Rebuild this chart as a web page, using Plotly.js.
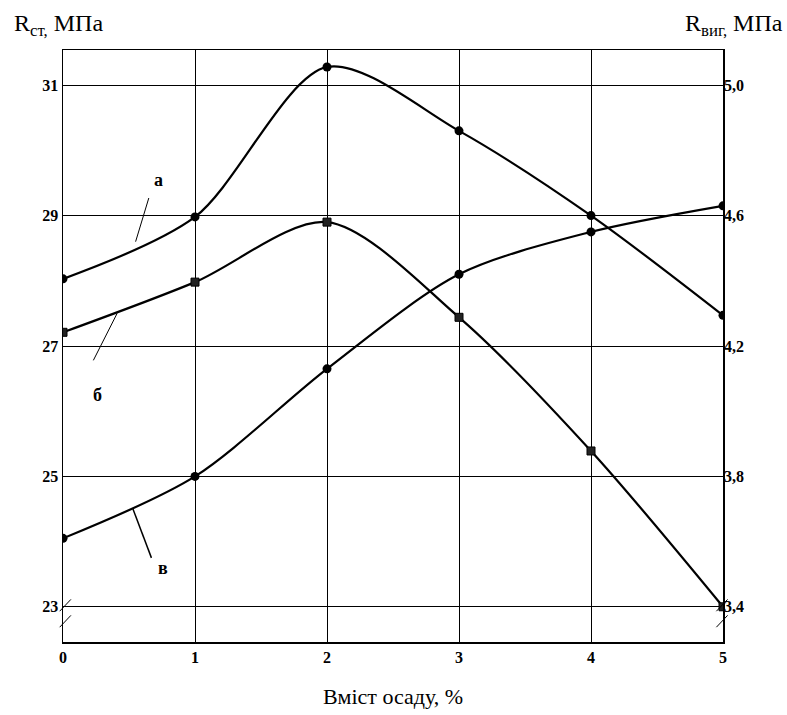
<!DOCTYPE html>
<html>
<head>
<meta charset="utf-8">
<script src="https://cdn.plot.ly/plotly-3.0.1.min.js"></script>
<style>html,body{margin:0;padding:0;background:#fff;}#chart{width:787px;height:715px;}</style>
</head>
<body>
<div id="chart"></div>
<script>
// Data
const xContent = [0, 1, 2, 3, 4, 5];            // Вміст осаду, %
const seriesA = [28.03, 28.98, 31.28, 30.30, 29.0, 27.47];   // R_ст, МПа (left axis)
const seriesB = [27.21, 27.98, 28.90, 27.44, 25.39, 23.0];   // R_ст, МПа (left axis)
const seriesV = [3.61, 3.80, 4.13, 4.42, 4.55, 4.63];        // R_виг, МПа (right axis)
const leftTicks = [23, 25, 27, 29, 31];
const rightTicks = [3.4, 3.8, 4.2, 4.6, 5.0];
const rightTickText = ['3,4', '3,8', '4,2', '4,6', '5,0'];
const xTicks = [0, 1, 2, 3, 4, 5];

const serif = 'Liberation Serif, Times New Roman, serif';
const lineStyle = {color: '#000', width: 2.2, shape: 'spline', smoothing: 0.85};

const traces = [
  {x: xContent, y: seriesA, type: 'scatter', mode: 'lines+markers', name: 'а',
   line: lineStyle, marker: {symbol: 'circle', size: 9, color: '#000'}},
  {x: xContent, y: seriesB, type: 'scatter', mode: 'lines+markers', name: 'б',
   line: lineStyle, marker: {symbol: 'square', size: 8, color: '#222', line: {color: '#000', width: 1}}},
  {x: xContent, y: seriesV, type: 'scatter', mode: 'lines+markers', name: 'в', yaxis: 'y2',
   line: lineStyle, marker: {symbol: 'circle', size: 9, color: '#000'}}
];

const yMin = 22.46, yMax = 31.54;
const toRight = v => 3.4 + (v - 23) * 0.2;

const layout = {
  width: 787, height: 715,
  margin: {l: 63, r: 64, t: 50, b: 73},
  paper_bgcolor: '#fff', plot_bgcolor: '#fff',
  showlegend: false,
  font: {family: serif, color: '#000'},
  xaxis: {
    range: [0, 5], tickvals: xTicks, ticktext: xTicks.map(String),
    showgrid: true, gridcolor: '#000', gridwidth: 1,
    showline: true, linecolor: '#000', linewidth: 1.5, mirror: true,
    zeroline: false, ticks: '',
    tickfont: {family: serif, size: 16, weight: 'bold', color: '#000'},
    title: {text: 'Вміст осаду, %', font: {family: serif, size: 22, color: '#000'}, standoff: 24}
  },
  yaxis: {
    range: [yMin, yMax], tickvals: leftTicks, ticktext: leftTicks.map(String),
    showgrid: true, gridcolor: '#000', gridwidth: 1,
    showline: true, linecolor: '#000', linewidth: 1.5, mirror: true,
    zeroline: false, ticks: '',
    tickfont: {family: serif, size: 16, weight: 'bold', color: '#000'}
  },
  yaxis2: {
    overlaying: 'y', side: 'right',
    range: [toRight(yMin), toRight(yMax)], tickvals: rightTicks, ticktext: rightTickText,
    showgrid: false, zeroline: false, showline: false, ticks: '',
    tickfont: {family: serif, size: 16, weight: 'bold', color: '#000'}
  },
  annotations: [
    {xref: 'paper', yref: 'paper', x: -0.078, y: 1.0, yshift: 8, xanchor: 'left', yanchor: 'bottom',
     text: 'R<sub>ст,</sub> МПа', showarrow: false, font: {family: serif, size: 24, color: '#000'}},
    {xref: 'paper', yref: 'paper', x: 1.094, y: 1.0, yshift: 8, xanchor: 'right', yanchor: 'bottom',
     text: 'R<sub>виг,</sub> МПа', showarrow: false, font: {family: serif, size: 24, color: '#000'}},
    {x: 0.72, y: 29.55, text: '<b>а</b>', showarrow: false, font: {family: serif, size: 18}},
    {x: 0.26, y: 26.25, text: '<b>б</b>', showarrow: false, font: {family: serif, size: 18}},
    {x: 0.76, y: 23.6, text: '<b>в</b>', showarrow: false, font: {family: serif, size: 18}}
  ],
  shapes: [
    // leader lines for curve labels
    {type: 'line', x0: 0.65, y0: 29.27, x1: 0.55, y1: 28.6, line: {color: '#000', width: 1}},
    {type: 'line', x0: 0.41, y0: 27.5, x1: 0.23, y1: 26.78, line: {color: '#000', width: 1}},
    {type: 'line', x0: 0.53, y0: 24.5, x1: 0.67, y1: 23.75, line: {color: '#000', width: 1.5}},
    // axis break marks
    {type: 'line', xref: 'paper', yref: 'paper', x0: -0.005, y0: 0.025, x1: 0.012, y1: 0.045, line: {color: '#000', width: 1}},
    {type: 'line', xref: 'paper', yref: 'paper', x0: -0.005, y0: 0.052, x1: 0.012, y1: 0.072, line: {color: '#000', width: 1}},
    {type: 'line', xref: 'paper', yref: 'paper', x0: 0.99, y0: 0.025, x1: 1.007, y1: 0.045, line: {color: '#000', width: 1}},
    {type: 'line', xref: 'paper', yref: 'paper', x0: 0.99, y0: 0.052, x1: 1.007, y1: 0.072, line: {color: '#000', width: 1}}
  ]
};

Plotly.newPlot('chart', traces, layout, {displayModeBar: false, staticPlot: true});
</script>
</body>
</html>
